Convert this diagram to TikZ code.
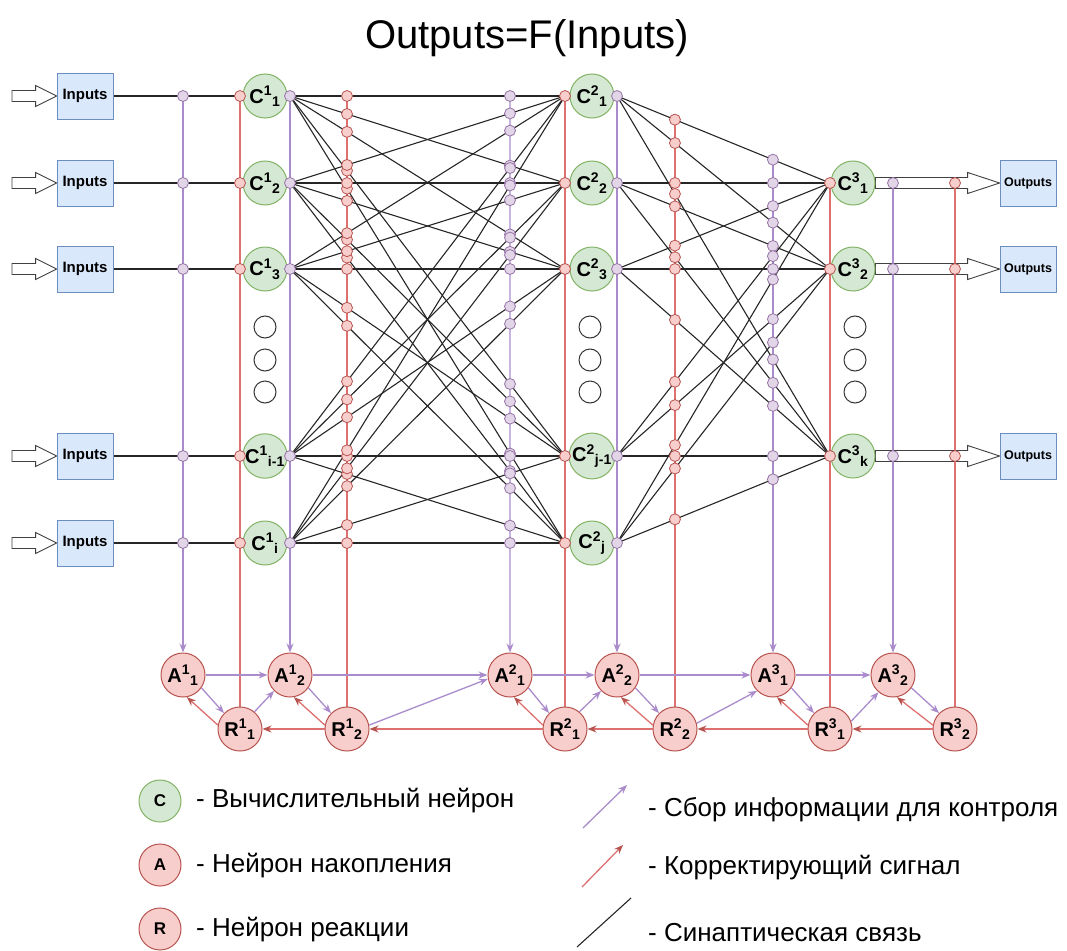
\documentclass[tikz,border=0pt]{standalone}
\usepackage{fontspec}
\setmainfont{Liberation Sans}
\usetikzlibrary{arrows.meta,calc}
\pgfdeclarelayer{bg}
\pgfsetlayers{bg,main}
\definecolor{grnf}{HTML}{D5E8D4}
\definecolor{grnd}{HTML}{82B366}
\definecolor{redf}{HTML}{F8CECC}
\definecolor{redd}{HTML}{B85450}
\definecolor{purf}{HTML}{E1D5E7}
\definecolor{purd}{HTML}{9673A6}
\definecolor{bluf}{HTML}{DAE8FC}
\definecolor{blud}{HTML}{6C8EBF}
\definecolor{redl}{RGB}{222,112,112}
\definecolor{purl}{RGB}{170,140,205}
\newcommand{\nlab}[3]{#1\textsuperscript{#2}\textsubscript{#3}}
\newcommand{\fatarrow}[3]{%
  \draw[black!75, line width=0.9pt, fill=white] let \p1=(#1), \p2=(#2) in
    (\x1,\y1+5.5pt) -- (\x2-#3,\y1+5.5pt) -- (\x2-#3,\y1+10.5pt) -- (\x2,\y1)
    -- (\x2-#3,\y1-10.5pt) -- (\x2-#3,\y1-5.5pt) -- (\x1,\y1-5.5pt) -- cycle;}
\tikzset{
  cnode/.style={circle, draw=grnd, fill=grnf, line width=1pt, minimum size=44pt,
    font=\bfseries\fontsize{20}{20}\selectfont},
  arnode/.style={circle, draw=redd, fill=redf, line width=1pt, minimum size=44pt,
    font=\bfseries\fontsize{20}{20}\selectfont},
  iobox/.style={draw=blud, fill=bluf, line width=0.8pt, minimum width=56pt, minimum height=46pt},
  rdot/.style={circle, draw=redd, fill=redf, line width=0.8pt, minimum size=11pt},
  pdot/.style={circle, draw=purd, fill=purf, line width=0.8pt, minimum size=11pt},
  dotsring/.style={circle, draw=black!80, line width=1pt, minimum size=22pt},
  syn/.style={black!85, line width=1.1pt},
  ctrl/.style={purl, line width=1.3pt},
  corr/.style={redl, line width=1.3pt},
  ctrlarr/.style={ctrl, -{Stealth[length=9pt,width=7pt]}},
  corrarr/.style={corr, -{Stealth[length=9pt,width=7pt,color=redd]}},
  legtxt/.style={anchor=west, font=\fontsize{26}{26}\selectfont},
  legnode/.style={minimum size=42pt, font=\bfseries\fontsize{17}{17}\selectfont}
}
\begin{document}
\begin{tikzpicture}[x=1pt,y=-1pt]
  \tikzstyle{every node}+=[inner sep=0pt]
  \useasboundingbox (0,0) rectangle (1067,950);
  \node[font=\fontsize{40}{40}\selectfont] (title) at (527,38) {Outputs=F(Inputs)};

  \foreach \r/\y/\s in {1/96/1,2/183/2,3/269/3,4/456/i-1,5/543/i} {
    \node[iobox, font=\bfseries\fontsize{15}{15}\selectfont] (in\r) at (85,\y) {Inputs};
    \coordinate (ia\r) at (12,\y);
    \node[pdot] (pin\r) at (183,\y) {};
    \node[cnode] (c1-\r) at (265,\y) {\nlab{C}{1}{\s}};
    \node[rdot] (i1-\r) at (240,\y) {};
    \node[pdot] (o1-\r) at (290,\y) {};
    \begin{pgfonlayer}{bg}
      \fatarrow{ia\r}{in\r.west}{21pt}
      \draw[syn] (in\r) -- (pin\r.center) -- (i1-\r.center);
    \end{pgfonlayer}
  }
  \foreach \r/\y/\s in {1/96/1,2/183/2,3/269/3,4/456/j-1,5/543/j} {
    \node[cnode] (c2-\r) at (592,\y) {\nlab{C}{2}{\s}};
    \node[rdot] (i2-\r) at (565,\y) {};
    \node[pdot] (o2-\r) at (617,\y) {};
  }
  \foreach \r/\y/\s in {1/183/1,2/269/2,3/456/k} {
    \node[cnode] (c3-\r) at (853,\y) {\nlab{C}{3}{\s}};
    \node[rdot] (i3-\r) at (830,\y) {};
    \node[iobox, font=\bfseries\fontsize{12.5}{12.5}\selectfont] (out\r) at (1028,\y) {Outputs};
    \node[pdot] (po\r) at (893,\y) {};
    \node[rdot] (ro\r) at (955,\y) {};
    \begin{pgfonlayer}{bg}
      \fatarrow{c3-\r.east}{out\r.west}{32pt}
    \end{pgfonlayer}
  }
  \foreach \x in {265,590,855}
    \foreach \y in {327,360,392}
      \node[dotsring] (g\x-\y) at (\x,\y) {};

  \foreach \a in {1,...,5}
    \foreach \b in {1,...,5} {
      \begin{pgfonlayer}{bg}
        \draw[syn] (o1-\a.center) -- (i2-\b.center);
      \end{pgfonlayer}
      \path (o1-\a.center) -- (i2-\b.center)
        node[rdot, pos=0.2073] (s1r-\a-\b) {} node[pdot, pos=0.8] (s1p-\a-\b) {};
    }
  \foreach \a in {1,...,5}
    \foreach \b in {1,...,3} {
      \begin{pgfonlayer}{bg}
        \draw[syn] (o2-\a.center) -- (i3-\b.center);
      \end{pgfonlayer}
      \path (o2-\a.center) -- (i3-\b.center)
        node[rdot, pos=0.272] (s2r-\a-\b) {} node[pdot, pos=0.732] (s2p-\a-\b) {};
    }

  \node[arnode] (A11) at (183,675) {\nlab{A}{1}{1}};
  \node[arnode] (R11) at (240,729) {\nlab{R}{1}{1}};
  \node[arnode] (A12) at (290,675) {\nlab{A}{1}{2}};
  \node[arnode] (R12) at (347,729) {\nlab{R}{1}{2}};
  \node[arnode] (A21) at (510,675) {\nlab{A}{2}{1}};
  \node[arnode] (R21) at (565,729) {\nlab{R}{2}{1}};
  \node[arnode] (A22) at (617,675) {\nlab{A}{2}{2}};
  \node[arnode] (R22) at (675,729) {\nlab{R}{2}{2}};
  \node[arnode] (A31) at (773,675) {\nlab{A}{3}{1}};
  \node[arnode] (R31) at (830,729) {\nlab{R}{3}{1}};
  \node[arnode] (A32) at (893,675) {\nlab{A}{3}{2}};
  \node[arnode] (R32) at (955,729) {\nlab{R}{3}{2}};

  \begin{pgfonlayer}{bg}
    \draw[ctrlarr] (pin1.center) -- (A11);
    \draw[corr] (R11) -- (i1-1.center);
    \draw[ctrlarr] (o1-1.center) -- (A12);
    \draw[corr] (R12) -- (R12 |- s1r-1-1);
    \draw[ctrlarr] (s1p-1-1.center) -- (A21);
    \draw[corr] (R21) -- (i2-1.center);
    \draw[ctrlarr] (o2-1.center) -- (A22);
    \draw[corr] (R22) -- (R22 |- s2r-1-1);
    \draw[ctrlarr] (A31 |- s2p-1-1) -- (A31);
    \draw[corr] (R31) -- (i3-1.center);
    \draw[ctrlarr] (po1.center) -- (A32);
    \draw[corr] (R32) -- (ro1.center);
  \end{pgfonlayer}

  \draw[ctrlarr] (A11) -- (A12);
  \draw[ctrlarr] (A12) -- (A21);
  \draw[ctrlarr] (A21) -- (A22);
  \draw[ctrlarr] (A22) -- (A31);
  \draw[ctrlarr] (A31) -- (A32);
  \foreach \p/\q in {A11/R11,A12/R12,A21/R21,A22/R22,A31/R31,A32/R32} {
    \draw[ctrlarr] (\p.-35) -- (\q.135);
    \draw[corrarr] (\q.170) -- (\p.-80);
  }
  \draw[ctrlarr] (R11.50) -- (A12.-135);
  \draw[ctrlarr] (R12.10) -- (A21.190);
  \draw[ctrlarr] (R21.50) -- (A22.-135);
  \draw[ctrlarr] (R22.15) -- (A31.-135);
  \draw[ctrlarr] (R31.20) -- (A32.-130);
  \draw[corrarr] (R12) -- (R11);
  \draw[corrarr] (R21) -- (R12);
  \draw[corrarr] (R22) -- (R21);
  \draw[corrarr] (R31) -- (R22);
  \draw[corrarr] (R32) -- (R31);

  \node[cnode, legnode] (legc) at (160,801) {C};
  \node[arnode, legnode] (lega) at (160,865) {A};
  \node[arnode, legnode] (legr) at (160,929) {R};
  \node[legtxt] (legct) at (196,801) {- Вычислительный нейрон};
  \node[legtxt] (legat) at (196,866) {- Нейрон накопления};
  \node[legtxt] (legrt) at (196,930) {- Нейрон реакции};
  \coordinate (lp0) at (583,828);
  \coordinate (lp1) at (627,785);
  \draw[ctrlarr] (lp0) -- (lp1);
  \node[legtxt] (legpt) at (648,810) {- Сбор информации для контроля};
  \coordinate (lk0) at (582,887);
  \coordinate (lk1) at (623,845);
  \draw[corrarr] (lk0) -- (lk1);
  \node[legtxt] (legkt) at (648,868) {- Корректирующий сигнал};
  \coordinate (ls0) at (577,947);
  \coordinate (ls1) at (631,898);
  \draw[syn] (ls0) -- (ls1);
  \node[legtxt] (legst) at (648,933) {- Синаптическая связь};
\end{tikzpicture}
\end{document}
